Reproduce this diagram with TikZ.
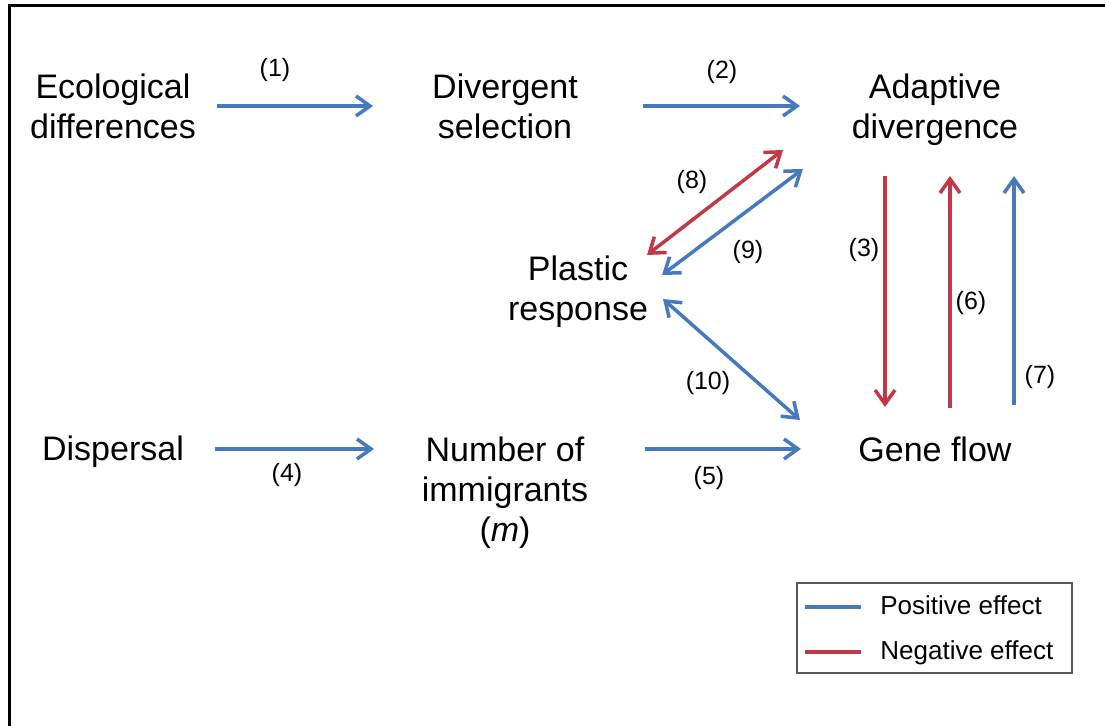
\documentclass[tikz,border=0pt]{standalone}
\usepackage{fontspec}
\setmainfont{Liberation Sans}
\usepackage{xcolor}
\usetikzlibrary{arrows.meta,calc,positioning}

\definecolor{posblue}{RGB}{70,122,190}
\definecolor{negred}{RGB}{194,56,70}

\tikzset{
  box/.style={align=center,inner sep=0pt,font=\fontsize{17}{20}\selectfont},
  num/.style={inner sep=0pt,font=\fontsize{12.5}{15}\selectfont},
  posline/.style={draw=posblue,line width=1.75pt},
  negline/.style={draw=negred,line width=1.75pt},
  legtext/.style={anchor=base west,inner sep=0pt,font=\fontsize{13}{15}\selectfont}
}

\begin{document}
\begin{tikzpicture}[x=0.5pt,y=-0.5pt,>={Straight Barb[length=7pt,width=10pt]}]
  \useasboundingbox (0,0) rectangle (1105,726);
  \draw[line width=1.5pt] (9,726) -- (9,6) -- (1105,6);

  % factors
  \node[box] (eco) at (113,106) {Ecological\\differences};
  \node[box] (divsel) at (505,106) {Divergent\\selection};
  \node[box] (adapt) at (935,110) {Adaptive\\divergence};
  \node[box] (plastic) at (578,292) {Plastic\\response};
  \node[box] (dispersal) at (113,452) {Dispersal};
  \node[box] (number) at (505,493) {Number of\\immigrants\\(\textit{m})};
  \node[box] (geneflow) at (935,449) {Gene flow};

  % effects
  \draw[posline,->,shorten <=52pt,shorten >=66pt] (eco.center) -- (divsel.center);
  \draw[posline,->,shorten <=69pt,shorten >=67.5pt] (divsel.center) -- (divsel.center -| adapt.center);
  \draw[posline,->,shorten <=51pt,shorten >=65.5pt] (geneflow.center -| dispersal.center) -- (geneflow.center -| number.center);
  \draw[posline,->,shorten <=70pt,shorten >=67pt] (number.center |- geneflow.center) -- (geneflow.center);
  \draw[negline,->,shorten <=35pt,shorten >=21pt] ([xshift=-25pt]adapt.center |- divsel.center) -- ([xshift=-25pt]geneflow.center);
  \draw[negline,->,shorten <=20.5pt,shorten >=35pt] ([xshift=7.5pt]geneflow.center) -- ([xshift=7.5pt]adapt.center |- divsel.center);
  \draw[posline,->,shorten <=22pt,shorten >=35pt] ([xshift=39.5pt]geneflow.center) -- ([xshift=39.5pt]adapt.center |- divsel.center);
  \draw[negline,<->] ($(plastic)+(69,-37)$) -- ($(adapt)+(-152,40)$);
  \draw[posline,<->] ($(plastic)+(84,-17)$) -- ($(adapt)+(-132,59)$);
  \draw[posline,<->] ($(plastic)+(85,7)$) -- ($(geneflow)+(-135,-29)$);

  % numbers
  \node[num] (n1) at (275,70) {(1)};
  \node[num] (n2) at (722,72) {(2)};
  \node[num] (n3) at (864,250) {(3)};
  \node[num] (n4) at (287,475) {(4)};
  \node[num] (n5) at (709,478) {(5)};
  \node[num] (n6) at (971,303) {(6)};
  \node[num] (n7) at (1040,377) {(7)};
  \node[num] (n8) at (692,182) {(8)};
  \node[num] (n9) at (748,252) {(9)};
  \node[num] (n10) at (708,383) {(10)};

  % legend
  \draw[gray!70!black,line width=0.6pt] (797,583) rectangle (1072,673);
  \draw[posline] (805,607) -- (861,607);
  \draw[negline] (805,652) -- (861,652);
  \node[legtext] (lpos) at (880,615) {Positive effect};
  \node[legtext] (lneg) at (880,660) {Negative effect};
\end{tikzpicture}
\end{document}
